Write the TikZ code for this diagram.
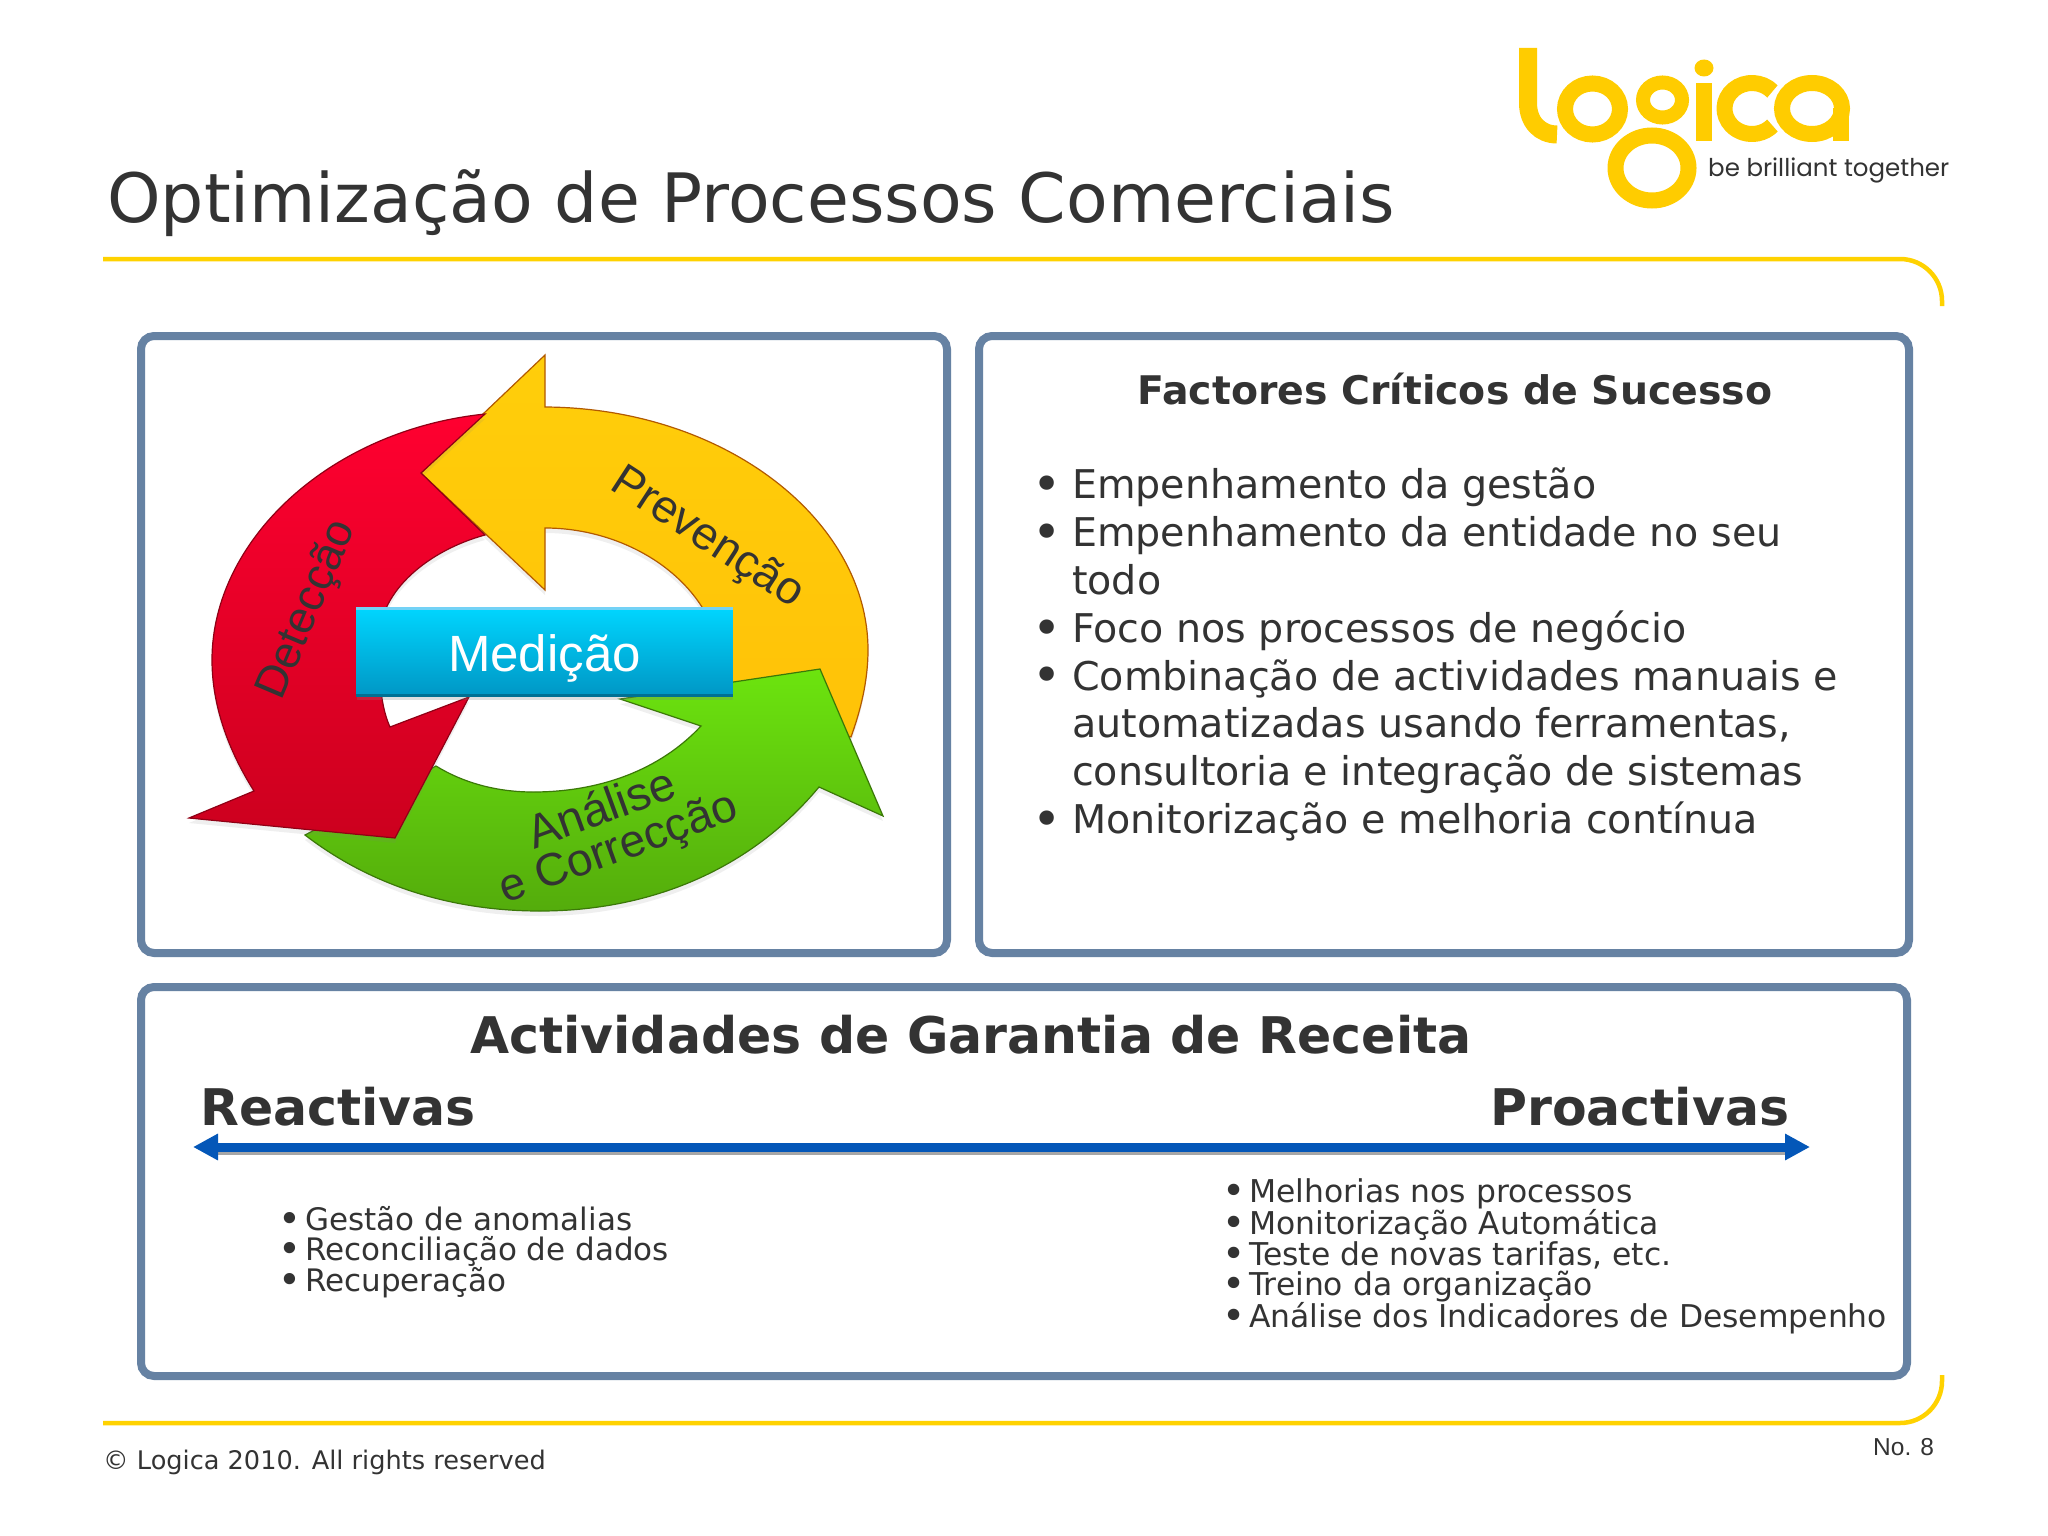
\documentclass[tikz,border=0pt]{standalone}
\usepackage{fontspec}
\setmainfont{DejaVu Sans}
\newfontfamily\arialfont{Liberation Sans}
\newfontfamily\tagfont{Poppins}
\usetikzlibrary{arrows.meta,shadows}
\definecolor{inktext}{HTML}{333333}
\definecolor{panelblue}{HTML}{6682A3}
\definecolor{logoyellow}{HTML}{FFCC00}
\definecolor{rulebar}{HTML}{FFD200}
\definecolor{axisblue}{HTML}{0457B8}
\definecolor{redtop}{HTML}{FF0030}
\definecolor{redlow}{HTML}{CC001E}
\definecolor{yelltop}{HTML}{FFCE0A}
\definecolor{yelllow}{HTML}{FFC208}
\definecolor{greentop}{HTML}{6CE40E}
\definecolor{greenlow}{HTML}{54AC0C}
\definecolor{boxtop}{HTML}{00D6FF}
\definecolor{boxlow}{HTML}{0096C4}
\newcommand{\bigdot}{\raisebox{-.07em}{\scalebox{1.25}{•}}}
\newcommand{\pnt}{\hspace*{-4pt}\makebox[40pt][l]{\bigdot}}
\newcommand{\pnu}{\hspace*{36pt}}
\newcommand{\pns}{\hspace*{-2pt}\makebox[27pt][l]{\bigdot}}
\tikzset{
    panel/.style={draw=panelblue,line width=8pt,rounded corners=13pt,fill=white},
    goldrule/.style={draw=rulebar,line width=4.5pt,rounded corners=42pt},
    logostroke/.style={draw=logoyellow,line width=16pt},
    ringarrow/.style={line width=1.2pt,drop shadow={shadow xshift=0pt,shadow yshift=-5pt,opacity=0.12}},
    ringlabel/.style={font=\arialfont\fontsize{46}{46}\selectfont,text=inktext,inner sep=0pt},
    bodytext/.style={text=inktext,inner sep=0pt,anchor=north west,align=left},
    headtext/.style={text=inktext,inner sep=0pt,anchor=base west,font=\bfseries\fontsize{50.5}{50.5}\selectfont}
}
\begin{document}
\begin{tikzpicture}[x=1pt,y=-1pt]
    \useasboundingbox (0,0) rectangle (2048,1536);
    \fill[white] (0,0) rectangle (2048,1536);
    % title and rules
    \node[text=inktext,inner sep=0pt,anchor=base west,font=\fontsize{68.1}{68.1}\selectfont] (title) at (107,222) {Optimização de Processos Comerciais};
    \draw[goldrule] (103,259) -| (1942,306);
    \draw[goldrule] (103,1423) -| (1942,1375);
    % logo
    \draw[logostroke,line width=18pt,line cap=butt] (1528,48) -- (1528,103) .. controls (1528,122) and (1540,134.5) .. (1557,134.5);
    \draw[logostroke] (1592.5,109) ellipse[x radius=27.5pt,y radius=25.5pt];
    \draw[logostroke,line width=14pt] (1662.5,100) ellipse[x radius=19.5pt,y radius=17.5pt];
    \draw[logostroke] (1652,168) ellipse[x radius=36.5pt,y radius=32.5pt];
    \fill[logoyellow] (1696,83) rectangle (1712,141);
    \fill[logoyellow] (1704,68) ellipse[x radius=9.5pt,y radius=8.5pt];
    \draw[logostroke] (1752,108.5) ++(42:27.5pt and 25.5pt) arc[start angle=42,end angle=318,x radius=27.5pt,y radius=25.5pt];
    \draw[logostroke] (1812,108.5) ellipse[x radius=30pt,y radius=25.5pt];
    \fill[logoyellow] (1833,108) rectangle (1849,141);
    \node[text=inktext,inner sep=0pt,anchor=base west,font=\tagfont\fontsize{24.5}{24.5}\selectfont] (tagline) at (1708,176) {be brilliant together};
    % panels
    \draw[panel] (141,336) rectangle (947,953);
    \draw[panel] (979,336) rectangle (1909,953);
    \draw[panel] (141,987) rectangle (1907,1376);
    % ring, yellow first, then green, then red
    \path[ringarrow,draw=orange!70!black,top color=yelltop,bottom color=yelllow]
        (421,473) -- (545,355) -- (545,407)
        .. controls (726,408) and (868,521) .. (868,650)
        .. controls (868,682) and (860,712) .. (851,737)
        -- (700,700) -- (705,612)
        .. controls (675,560) and (610,528) .. (545,528)
        -- (545,590) -- cycle;
    \path[ringarrow,draw=greenlow!70!black,top color=greentop,bottom color=greenlow]
        (883,816) -- (820,669) -- (620,699) -- (701,726)
        .. controls (660,770) and (600,792) .. (533,792)
        .. controls (495,792) and (462,782) .. (436,766)
        -- (305,835)
        .. controls (370,885) and (450,911) .. (540,911)
        .. controls (650,911) and (750,870) .. (819,787)
        -- cycle;
    \path[ringarrow,draw=redlow!70!black,top color=redtop,bottom color=redlow]
        (189,818) -- (254,791)
        .. controls (228,750) and (212,705) .. (212,660)
        .. controls (212,540) and (330,430) .. (485,414)
        -- (421,473) -- (485,535)
        .. controls (430,550) and (379,590) .. (379,640)
        .. controls (379,675) and (380,705) .. (390,727)
        -- (469,697) -- (395,838) -- cycle;
    % centre box
    \node[minimum width=376pt,minimum height=89pt,inner sep=0pt,top color=boxtop,bottom color=boxlow,text=white,text height=38pt,text depth=0pt,font=\arialfont\fontsize{51}{51}\selectfont,drop shadow={shadow xshift=0pt,shadow yshift=-3pt,opacity=0.25}] (medicao) at (544.5,652) {Medição};
    \draw[cyan!55!white,line width=3pt] ([yshift=-1.5pt]medicao.north west) -- ([yshift=-1.5pt]medicao.north east);
    \draw[boxlow!75!black,line width=3pt] ([yshift=1.5pt]medicao.south west) -- ([yshift=1.5pt]medicao.south east);
    \node[ringlabel,rotate=-33] (prevencao) at (707,539) {Prevenção};
    \node[ringlabel,rotate=67,font=\arialfont\fontsize{45}{45}\selectfont] (deteccao) at (308,610) {Detecção};
    \node[ringlabel,rotate=20,font=\arialfont\fontsize{47}{47}\selectfont] (analise) at (601,807) {Análise};
    \node[ringlabel,rotate=20] (correccao) at (619,850) {e Correcção};
    % right panel
    \node[text=inktext,inner sep=0pt,anchor=base,font=\bfseries\fontsize{39.4}{39.4}\selectfont] (factores) at (1455,404) {Factores Críticos de Sucesso};
    \node[bodytext,font=\fontsize{39.6}{47.8}\selectfont] (factlist) at (1036,468) {\pnt Empenhamento da gestão\\
        \pnt Empenhamento da entidade no seu\\
        \pnu todo\\
        \pnt Foco nos processos de negócio\\
        \pnt Combinação de actividades manuais e\\
        \pnu automatizadas usando ferramentas,\\
        \pnu consultoria e integração de sistemas\\
        \pnt Monitorização e melhoria contínua};
    % bottom panel
    \node[headtext] (garantia) at (470,1053) {Actividades de Garantia de Receita};
    \node[headtext] (reactivas) at (200,1125) {Reactivas};
    \node[headtext] (proactivas) at (1490,1125) {Proactivas};
    \coordinate (reactend) at (193,1147);
    \coordinate (proactend) at (1810,1147);
    \draw[black!35,line width=4pt] ([yshift=-6pt,xshift=20pt]reactend) -- ([yshift=-6pt,xshift=-20pt]proactend);
    \draw[{Triangle[length=25pt,width=25pt]}-{Triangle[length=25pt,width=25pt]},axisblue,line width=9pt] (reactend) -- (proactend);
    \node[bodytext,font=\fontsize{31}{30}\selectfont] (reactlist) at (280,1206) {\pns Gestão de anomalias\\
        \pns Reconciliação de dados\\
        \pns Recuperação};
    \node[bodytext,font=\fontsize{31.4}{29.4}\selectfont] (proactlist) at (1224,1178) {\pns Melhorias nos processos\\
        \pns Monitorização Automática\\
        \pns Teste de novas tarifas, etc.\\
        \pns Treino da organização\\
        \pns Análise dos Indicadores de Desempenho};
    % footer
    \node[text=inktext,inner sep=0pt,anchor=base west,font=\fontsize{25.6}{25.6}\selectfont] (copyline) at (103,1469) {© Logica 2010. All rights reserved};
    \node[text=inktext,inner sep=0pt,anchor=base west,font=\arialfont\fontsize{24.5}{24.5}\selectfont] (pageno) at (1873,1455) {No. 8};
\end{tikzpicture}
\end{document}
